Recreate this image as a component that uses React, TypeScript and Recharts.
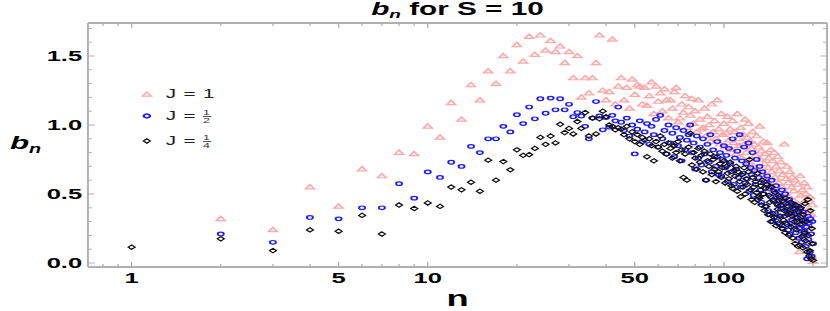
import React from 'react';
import { ScatterChart, Scatter, XAxis, YAxis, ReferenceLine } from 'recharts';

// n = 1 .. 200
const nValues = Array.from({ length: 200 }, (_, i) => i + 1);

// b_n for J = 1 (triangles)
const bJ1: (number | null)[] = [
  null, 0.32, 0.24, 0.55, 0.41, 0.68, 0.63, 0.80, 0.79, 0.99,
  0.91, 1.16, 1.04, 1.29, 1.18, 1.39, 1.30, 1.50, 1.39, 1.58,
  1.46, 1.64, 1.51, 1.65, 1.54, 1.61, 1.53, 1.57, 1.45, 1.53,
  1.34, 1.50, 1.20, 1.34, 1.23, 1.34, 1.45, 1.65, 1.25, 1.18,
  1.24, 1.62, 1.15, 1.28,
  1.34, 1.18, 1.27, 1.12, 1.33, 1.22, 1.29, 1.28, 1.15, 1.27,
  1.14, 1.21, 1.31, 1.08, 1.28, 1.17, 1.23, 1.10, 1.26, 1.18,
  1.05, 1.18, 1.12, 1.24, 1.27, 1.02, 1.05, 1.15, 1.09, 1.21,
  0.98, 1.13, 1.07, 1.19, 1.01, 1.10, 0.95, 1.18, 1.04, 0.97,
  0.98, 1.12, 0.92, 1.06, 1.00, 0.88, 1.15, 0.95, 1.03, 0.90,
  1.18, 0.97, 0.86, 1.08, 0.93, 1.01, 0.84, 0.94, 1.06, 0.89,
  0.97, 0.82, 1.03, 0.87, 0.95, 0.79, 1.08, 0.90, 0.85, 0.98,
  0.76, 0.93, 0.86, 1.04, 0.80, 0.91, 1.01, 0.73, 0.88, 0.83,
  0.95, 0.70, 0.86, 0.78, 0.92, 0.67, 0.84, 0.99, 0.75, 0.81,
  0.64, 0.88, 0.72, 0.79, 0.60, 0.87, 0.69, 0.76, 0.57, 0.82,
  0.66, 0.74, 0.53, 0.80, 0.62, 0.70, 0.48, 0.77, 0.58, 0.67,
  0.45, 0.73, 0.55, 0.64, 0.42, 0.86, 0.51, 0.61, 0.70, 0.39,
  0.58, 0.48, 0.66, 0.36, 0.55, 0.62, 0.33, 0.52, 0.45, 0.60,
  0.30, 0.17, 0.57, 0.41, 0.27, 0.08, 0.63, 0.49, 0.35, 0.53,
  0.24, 0.44, 0.58, 0.31, 0.50, 0.20, 0.55, 0.38, 0.46, 0.14,
  0.48, 0.26, 0.35, 0.05, 0.42, 0.01,
];

// b_n for J = 1/2 (circles)
const bJHalf: (number | null)[] = [
  null, 0.21, 0.15, 0.33, 0.32, 0.40, 0.40, 0.575, 0.47, 0.66,
  0.62, 0.73, 0.70, 0.845, 0.80, 0.90, 0.90, 0.99, 0.95, 1.075,
  1.01, 1.13, 1.045, 1.19, 1.085, 1.195, 1.11, 1.19, 1.11, 1.15,
  1.06, 1.09, 1.065, 0.99, 0.90, 1.05, 1.17, 1.065, 0.965, 1.055,
  0.985, 1.07, 1.03, 1.13,
  1.02, 0.96, 1.05, 0.92, 1.00, 0.79, 0.97, 1.03, 0.88, 0.95,
  1.01, 0.86, 0.99, 0.93, 1.04, 0.84, 1.07, 0.90, 0.96, 0.79,
  1.00, 0.87, 0.94, 0.77, 0.98, 0.85, 0.91, 0.74, 0.96, 0.82,
  0.89, 0.93, 1.00, 0.80, 0.87, 0.68, 0.92, 0.76, 0.84, 0.71,
  0.90, 0.79, 0.60, 0.86, 0.73, 0.93, 0.66, 0.82, 0.77, 0.70,
  0.88, 0.64, 0.80, 0.63, 0.75, 0.85, 0.69, 0.78, 0.59, 0.83,
  0.72, 0.66, 0.90, 0.57, 0.76, 0.68, 0.81, 0.62, 0.93, 0.55,
  0.74, 0.65, 0.84, 0.58, 0.72, 0.61, 0.87, 0.52, 0.69, 0.64,
  0.80, 0.49, 0.67, 0.57, 0.75, 0.46, 0.62, 0.70, 0.53, 0.44,
  0.66, 0.50, 0.59, 0.41, 0.57, 0.63, 0.38, 0.54, 0.35, 0.48,
  0.60, 0.30, 0.45, 0.52, 0.36, 0.56, 0.33, 0.42, 0.49, 0.28,
  0.47, 0.39, 0.53, 0.25, 0.44, 0.34, 0.50, 0.29, 0.41, 0.37,
  0.24, 0.46, 0.21, 0.38, 0.43, 0.31, 0.43, 0.27, 0.35, 0.40,
  0.22, 0.36, 0.30, 0.41, 0.18, 0.25, 0.39, 0.33, 0.15, 0.28,
  0.37, 0.20, 0.23, 0.31, 0.12, 0.26, 0.03, 0.34, 0.17, 0.29,
  0.08, 0.32, 0.21, 0.05, 0.30, 0.14,
];

// b_n for J = 1/4 (diamonds)
const bJQuarter: (number | null)[] = [
  0.115, 0.175, 0.09, 0.24, 0.23, 0.345, 0.21, 0.42, 0.395, 0.435,
  0.41, 0.55, 0.53, 0.585, 0.52, 0.745, 0.60, 0.735, 0.675, 0.82,
  0.78, 0.785, 0.83, 0.91, 0.86, 0.92, 0.87, 1.005, 0.945, 0.975,
  0.935, 1.025, 0.975, 1.09, 0.92, 1.05, 0.935, 1.045, 1.10, 1.06,
  1.0, 0.99, 0.965, 0.98,
  0.97, 0.93, 0.99, 0.90, 0.95, 0.88, 0.93, 0.86, 0.91, 0.89,
  0.77, 0.90, 0.85, 0.74, 0.88, 0.84, 0.92, 0.81, 0.86, 0.79,
  0.87, 0.83, 0.76, 0.85, 0.80, 0.88, 0.74, 0.82, 0.62, 0.79,
  0.60, 0.84, 0.94, 0.71, 0.80, 0.76, 0.68, 0.83, 0.73, 0.78,
  0.66, 0.81, 0.60, 0.74, 0.70, 0.79, 0.64, 0.75, 0.68, 0.59,
  0.77, 0.66, 0.72, 0.62, 0.69, 0.74, 0.58, 0.70, 0.65, 0.61,
  0.73, 0.56, 0.54, 0.67, 0.63, 0.70, 0.52, 0.66, 0.59, 0.48,
  0.64, 0.55, 0.69, 0.50, 0.61, 0.57, 0.66, 0.75, 0.53, 0.46,
  0.62, 0.55, 0.44, 0.59, 0.51, 0.65, 0.48, 0.47, 0.56, 0.42,
  0.60, 0.50, 0.38, 0.54, 0.41, 0.57, 0.35, 0.49, 0.44, 0.30,
  0.55, 0.36, 0.46, 0.33, 0.51, 0.27, 0.43, 0.39, 0.29, 0.48,
  0.34, 0.42, 0.25, 0.45, 0.31, 0.38, 0.22, 0.47, 0.28, 0.35,
  0.41, 0.20, 0.36, 0.44, 0.26, 0.34, 0.18, 0.39, 0.30, 0.14,
  0.42, 0.24, 0.33, 0.12, 0.37, 0.13, 0.28, 0.40, 0.19, 0.31,
  0.11, 0.35, 0.22, 0.43, 0.16, 0.30, 0.08, 0.46, 0.20, 0.05,
  0.09, 0.38, 0.03, 0.25, 0.14, 0.02,
];

const xTicks = [0.8, 0.9, 1, 2, 3, 4, 5, 6, 7, 8, 9, 10, 20, 30, 40, 50, 60, 70, 80, 90, 100, 200];
const xMajor = [1, 5, 10, 50, 100];
const yTicks = [0, 0.1, 0.2, 0.3, 0.4, 0.5, 0.6, 0.7, 0.8, 0.9, 1.0, 1.1, 1.2, 1.3, 1.4, 1.5, 1.6, 1.7];
const yMajor = [0, 0.5, 1.0, 1.5];

// the picture is drawn narrow and stretched sideways, like the reference
const W = 503;
const H = 311;
const SX = 830 / W;
const PLOT_TOP = 23;
const PLOT_BOTTOM = 267;
const PLOT_LEFT = 53.3;
const PLOT_RIGHT = 501.2;
const X_DOMAIN: [number, number] = [0.712, 223];
const Y_DOMAIN: [number, number] = [-0.029, 1.739];

const FRAME = '#b0b0b0';
const PINK = '#ffa8a8';
const BLUE = '#1e1eff';
const DARK = '#111111';
const FONT = '"Liberation Sans", Arial, Helvetica, sans-serif';

const toPoints = (vals: (number | null)[]) =>
  nValues.map((n, i) => ({ n, b: vals[i] })).filter((p) => p.b != null);

const Triangle = (props: any) => {
  const { cx, cy } = props;
  return (
    <polygon
      points={`${cx},${cy - 2.5} ${cx + 2.7},${cy + 1.7} ${cx - 2.7},${cy + 1.7}`}
      fill="none"
      stroke={PINK}
      strokeWidth={1.2}
    />
  );
};

const Ring = (props: any) => {
  const { cx, cy } = props;
  return <circle cx={cx} cy={cy} r={1.8} fill="none" stroke={BLUE} strokeWidth={1.2} />;
};

const Diamond = (props: any) => {
  const { cx, cy } = props;
  return (
    <polygon
      points={`${cx},${cy - 2.2} ${cx + 2.1},${cy} ${cx},${cy + 2.2} ${cx - 2.1},${cy}`}
      fill="none"
      stroke={DARK}
      strokeWidth={1}
    />
  );
};

const XTick = (props: any) => {
  const { x, y, payload } = props;
  const major = xMajor.includes(payload.value);
  const len = major ? 5 : 3;
  return (
    <g>
      <line x1={x} y1={y} x2={x} y2={y - len} stroke={FRAME} strokeWidth={0.8} />
      <line x1={x} y1={PLOT_TOP} x2={x} y2={PLOT_TOP + len} stroke={FRAME} strokeWidth={0.8} />
      {major && (
        <text x={x} y={y + 16} textAnchor="middle" fontFamily={FONT} fontWeight="bold" fontSize={15.5} fill="#000">
          {payload.value}
        </text>
      )}
    </g>
  );
};

const YTick = (props: any) => {
  const { x, y, payload } = props;
  const major = yMajor.includes(payload.value);
  const len = major ? 4 : 2.4;
  return (
    <g>
      <line x1={x} y1={y} x2={x + len} y2={y} stroke={FRAME} strokeWidth={1} />
      <line x1={PLOT_RIGHT} y1={y} x2={PLOT_RIGHT - len} y2={y} stroke={FRAME} strokeWidth={1} />
      {major && (
        <text x={x - 3.5} y={y + 5.5} textAnchor="end" fontFamily={FONT} fontWeight="bold" fontSize={15.5} fill="#000">
          {payload.value.toFixed(1)}
        </text>
      )}
    </g>
  );
};

const Frac = ({ den }: { den: string }) => (
  <span
    style={{
      display: 'inline-flex',
      flexDirection: 'column',
      alignItems: 'center',
      verticalAlign: 'middle',
      fontSize: 7.5,
      lineHeight: '7px',
      marginLeft: 4,
      color: '#333',
    }}
  >
    <span>1</span>
    <span style={{ borderTop: '0.8px solid #555', padding: '0 0.5px' }}>{den}</span>
  </span>
);

const legendRows = [
  { top: 86, label: 'J = 1', den: '', marker: 'tri' },
  { top: 108, label: 'J =', den: '2', marker: 'ring' },
  { top: 133, label: 'J =', den: '4', marker: 'dia' },
];

const LegendBox = () => (
  <div style={{ position: 'absolute', left: 0, top: 0, fontFamily: FONT, fontSize: 12.5, color: '#222' }}>
    {legendRows.map((r) => (
      <div key={r.den + r.label} style={{ position: 'absolute', left: 84, top: r.top, height: 16, display: 'flex', alignItems: 'center', whiteSpace: 'nowrap' }}>
        <svg width={10} height={10} style={{ marginRight: 6.5 }}>
          {r.marker === 'tri' && <Triangle cx={5} cy={5.5} />}
          {r.marker === 'ring' && <circle cx={5} cy={5} r={1.9} fill="none" stroke={BLUE} strokeWidth={1.5} />}
          {r.marker === 'dia' && <Diamond cx={5} cy={5} />}
        </svg>
        <span style={{ wordSpacing: 1 }}>{r.label}</span>
        {r.den && <Frac den={r.den} />}
      </div>
    ))}
  </div>
);

export default function App() {
  return (
    <div style={{ position: 'absolute', left: 0, top: 0, width: 830, height: 311, overflow: 'hidden', background: '#fff' }}>
      <div style={{ position: 'relative', width: W, height: H, transform: `scaleX(${SX})`, transformOrigin: '0 0' }}>
        <ScatterChart
          width={W}
          height={H}
          margin={{ top: PLOT_TOP, right: W - PLOT_RIGHT, bottom: 0, left: 0 }}
        >
          <XAxis
            dataKey="n"
            type="number"
            scale="log"
            domain={X_DOMAIN}
            allowDataOverflow
            ticks={xTicks}
            interval={0}
            tick={<XTick />}
            tickLine={false}
            tickSize={0}
            tickMargin={0}
            height={H - PLOT_BOTTOM}
            axisLine={{ stroke: FRAME, strokeWidth: 1.8 }}
            label={{
              content: () => (
                <text x={(PLOT_LEFT + PLOT_RIGHT) / 2} y={306} textAnchor="middle" fontFamily={FONT} fontWeight="bold" fontSize={22} fill="#000">
                  n
                </text>
              ),
            }}
          />
          <YAxis
            dataKey="b"
            type="number"
            domain={Y_DOMAIN}
            allowDataOverflow
            ticks={yTicks}
            interval={0}
            tick={<YTick />}
            tickLine={false}
            tickSize={0}
            tickMargin={0}
            width={PLOT_LEFT}
            axisLine={{ stroke: FRAME, strokeWidth: 1.2 }}
            label={{
              content: () => (
                <text x={6} y={149} fontFamily={FONT} fontWeight="bold" fontStyle="italic" fontSize={19} fill="#000">
                  <tspan>b</tspan>
                  <tspan fontSize={12} dy={4}>n</tspan>
                </text>
              ),
            }}
          />
          <ReferenceLine y={Y_DOMAIN[1]} stroke={FRAME} strokeWidth={1.8} />
          <ReferenceLine x={X_DOMAIN[1]} stroke={FRAME} strokeWidth={1.2} />
          <Scatter data={toPoints(bJ1)} shape={Triangle} isAnimationActive={false} />
          <Scatter data={toPoints(bJHalf)} shape={Ring} isAnimationActive={false} />
          <Scatter data={toPoints(bJQuarter)} shape={Diamond} isAnimationActive={false} />
        </ScatterChart>
        <div
          style={{
            position: 'absolute',
            left: PLOT_LEFT,
            top: 1,
            width: PLOT_RIGHT - PLOT_LEFT,
            textAlign: 'center',
            fontFamily: FONT,
            fontWeight: 'bold',
            fontSize: 18,
            lineHeight: '17px',
            color: '#000',
          }}
        >
          <i>b</i>
          <i style={{ fontSize: 11.5, position: 'relative', top: 3 }}>n</i> for S = 10
        </div>
        <LegendBox />
      </div>
    </div>
  );
}
